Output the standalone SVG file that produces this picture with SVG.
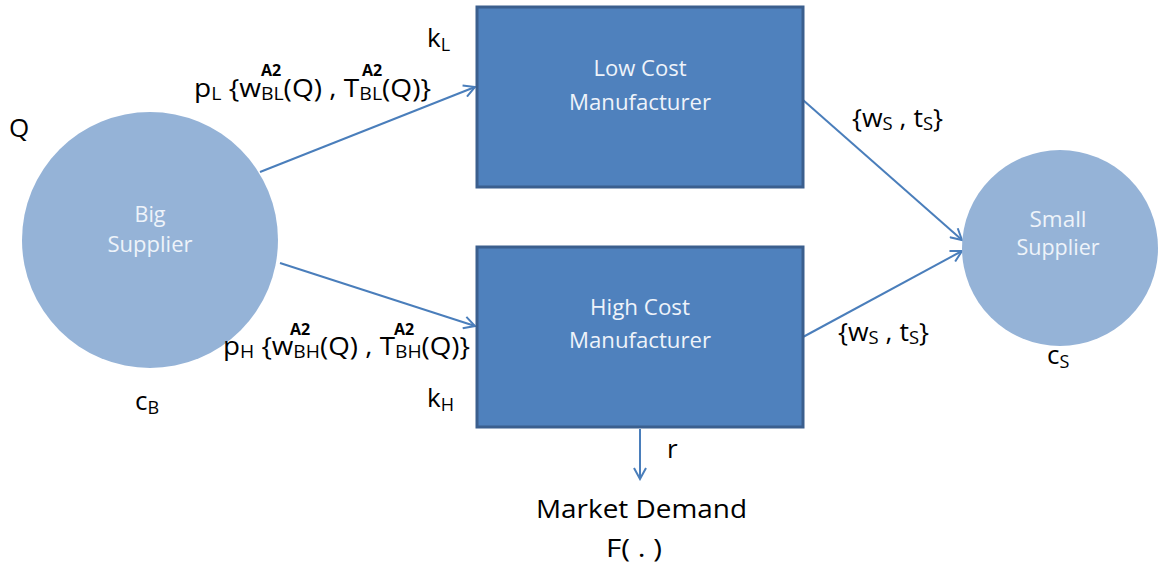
<svg xmlns="http://www.w3.org/2000/svg" width="1159" height="570" viewBox="0 0 1159 570">
<defs>
<marker id="arr" markerWidth="14" markerHeight="14" refX="12" refY="7" orient="auto" markerUnits="userSpaceOnUse">
<path d="M1,1 L12,7 L1,13" fill="none" stroke="#4a7ebb" stroke-width="2"/>
</marker>
<style>
.box{fill:#4f81bd;stroke:#3b5f8e;stroke-width:3}
.circ{fill:#95b3d7}
.in{font-family:"Open Sans",Lato,sans-serif;font-size:21px;fill:#eef3fa;text-anchor:middle}
.lbl{font-family:"Open Sans",Lato,sans-serif;font-size:26px;fill:#000}
.sub{font-size:18px}
.sup{font-family:"Open Sans",Lato,sans-serif;font-size:16px;font-weight:bold;fill:#000;text-anchor:middle}
.con{stroke:#4a7ebb;stroke-width:2;fill:none;marker-end:url(#arr)}
</style>
</defs>
<rect width="1159" height="570" fill="#fff"/>
<g id="connectors">
<line class="con" x1="260" y1="172" x2="475" y2="87"/>
<line class="con" x1="280" y1="263" x2="475" y2="326"/>
<line class="con" x1="803" y1="100" x2="962" y2="240"/>
<line class="con" x1="803" y1="337" x2="962" y2="251"/>
<line class="con" x1="640" y1="429" x2="640" y2="479"/>
</g>
<g id="big-supplier">
<circle class="circ" cx="150" cy="240" r="128"/>
<text class="in" x="150" y="222" textLength="31" lengthAdjust="spacingAndGlyphs">Big</text>
<text class="in" x="150" y="252" textLength="85" lengthAdjust="spacingAndGlyphs">Supplier</text>
</g>
<g id="small-supplier">
<circle class="circ" cx="1060" cy="248" r="98"/>
<text class="in" x="1058" y="227" textLength="57" lengthAdjust="spacingAndGlyphs">Small</text>
<text class="in" x="1058" y="255" textLength="83" lengthAdjust="spacingAndGlyphs">Supplier</text>
</g>
<g id="low-cost">
<rect class="box" x="477" y="7" width="326" height="180"/>
<text class="in" x="640" y="76" textLength="93" lengthAdjust="spacingAndGlyphs">Low Cost</text>
<text class="in" x="640" y="110" textLength="142" lengthAdjust="spacingAndGlyphs">Manufacturer</text>
</g>
<g id="high-cost">
<rect class="box" x="477" y="247" width="326" height="180"/>
<text class="in" x="640" y="315" textLength="100" lengthAdjust="spacingAndGlyphs">High Cost</text>
<text class="in" x="640" y="348" textLength="142" lengthAdjust="spacingAndGlyphs">Manufacturer</text>
</g>
<g id="labels">
<text class="lbl" x="9" y="137">Q</text>
<text class="lbl" x="427" y="47">k<tspan class="sub" dy="4">L</tspan></text>
<text class="lbl" x="427" y="407">k<tspan class="sub" dy="4">H</tspan></text>
<text class="lbl" x="135" y="410">c<tspan class="sub" dy="4">B</tspan></text>
<text class="lbl" x="1047" y="364">c<tspan class="sub" dy="4">S</tspan></text>
<text class="lbl" x="194" y="97" textLength="237" lengthAdjust="spacingAndGlyphs">p<tspan class="sub" dy="3">L</tspan><tspan dy="-3"> {w</tspan><tspan class="sub" dy="3">BL</tspan><tspan dy="-3">(Q) , T</tspan><tspan class="sub" dy="3">BL</tspan><tspan dy="-3">(Q)}</tspan></text>
<text class="sup" x="271" y="76">A2</text>
<text class="sup" x="372" y="76">A2</text>
<text class="lbl" x="223" y="355" textLength="247" lengthAdjust="spacingAndGlyphs">p<tspan class="sub" dy="3">H</tspan><tspan dy="-3"> {w</tspan><tspan class="sub" dy="3">BH</tspan><tspan dy="-3">(Q) , T</tspan><tspan class="sub" dy="3">BH</tspan><tspan dy="-3">(Q)}</tspan></text>
<text class="sup" x="300" y="335">A2</text>
<text class="sup" x="404" y="335">A2</text>
<text class="lbl" x="852" y="127" textLength="91" lengthAdjust="spacingAndGlyphs">{w<tspan class="sub" dy="3">S</tspan><tspan dy="-3"> , t</tspan><tspan class="sub" dy="3">S</tspan><tspan dy="-3">}</tspan></text>
<text class="lbl" x="838" y="341" textLength="91" lengthAdjust="spacingAndGlyphs">{w<tspan class="sub" dy="3">S</tspan><tspan dy="-3"> , t</tspan><tspan class="sub" dy="3">S</tspan><tspan dy="-3">}</tspan></text>
<text class="lbl" x="667" y="458">r</text>
<text class="lbl" x="536" y="518" textLength="211" lengthAdjust="spacingAndGlyphs">Market Demand</text>
<text class="lbl" x="606" y="557" textLength="56" lengthAdjust="spacingAndGlyphs">F( . )</text>
</g>
</svg>
